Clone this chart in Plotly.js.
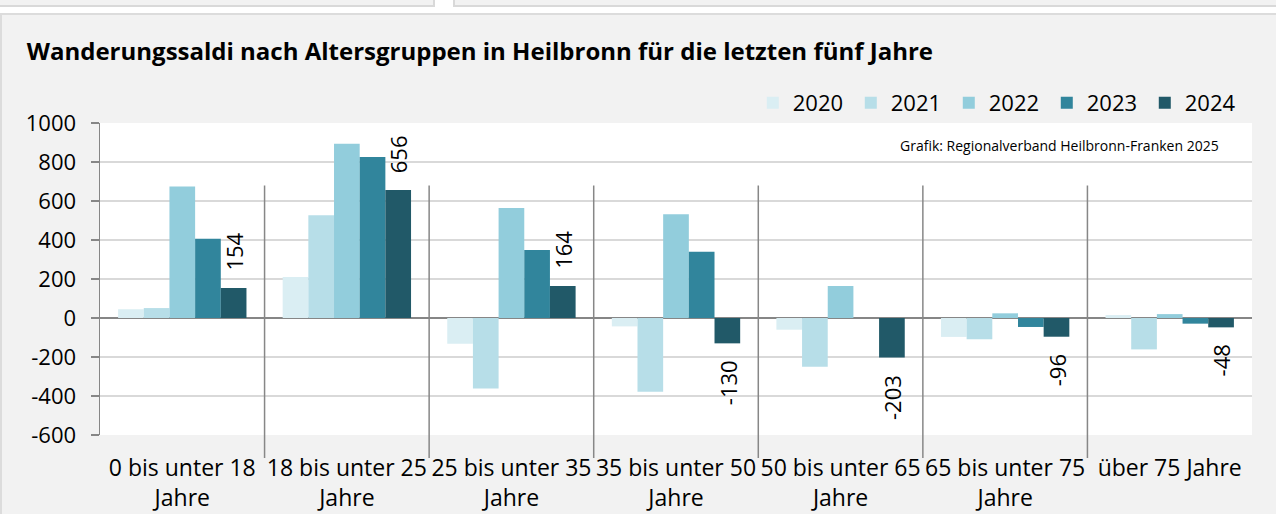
<!DOCTYPE html>
<html>
<head>
<meta charset="utf-8">
<script src="https://cdn.plot.ly/plotly-3.0.1.min.js"></script>
<style>
  html, body { margin: 0; padding: 0; background: #f2f2f2; width: 1276px; height: 514px; overflow: hidden; position: relative; }
  .deco { position: absolute; box-sizing: border-box; }
  #box1 { left: -4px; top: -4px; width: 439px; height: 11px; border-right: 2px solid #d9d9d9; border-bottom: 2px solid #d9d9d9; background: #f2f2f2; }
  #box2 { left: 453px; top: -4px; width: 840px; height: 11px; border-left: 2px solid #d9d9d9; border-bottom: 2px solid #d9d9d9; background: #f2f2f2; }
  #strip { left: 0; top: 7px; width: 1276px; height: 6px; background: #ffffff; }
  #gap { left: 435px; top: 0; width: 18px; height: 13px; background: #ffffff; }
  #panel { left: 0; top: 13px; width: 1300px; height: 520px; border-top: 2px solid #dcdcdc; border-left: 2px solid #dcdcdc; background: #f2f2f2; }
  #chart { position: absolute; left: 0; top: 0; width: 1276px; height: 514px; }
</style>
</head>
<body>
<div class="deco" id="box1"></div>
<div class="deco" id="box2"></div>
<div class="deco" id="strip"></div>
<div class="deco" id="gap"></div>
<div class="deco" id="panel"></div>
<div id="chart"></div>
<script>
const categories = [
  '0 bis unter 18<br>Jahre',
  '18 bis unter 25<br>Jahre',
  '25 bis unter 35<br>Jahre',
  '35 bis unter 50<br>Jahre',
  '50 bis unter 65<br>Jahre',
  '65 bis unter 75<br>Jahre',
  'über 75 Jahre'
];
const years = ['2020', '2021', '2022', '2023', '2024'];
const values2020 = [45, 210, -132, -43, -60, -97, 15];
const values2021 = [51, 527, -362, -378, -250, -109, -161];
const values2022 = [675, 894, 564, 532, 164, 24, 20];
const values2023 = [407, 826, 349, 340, 0, -46, -29];
const values2024 = [154, 656, 164, -130, -203, -96, -48];
const colors = ['#daeef3', '#b7dee8', '#92cddc', '#31859c', '#215968'];
const yTicks = [-600, -400, -200, 0, 200, 400, 600, 800, 1000];
const sourceText = 'Grafik: Regionalverband Heilbronn-Franken 2025';
const titleText = 'Wanderungssaldi nach Altersgruppen in Heilbronn für die letzten fünf Jahre';

const series = [values2020, values2021, values2022, values2023, values2024];
const FONT = '"Open Sans", "DejaVu Sans", sans-serif';
const bargap = 0.22;

const traces = series.map((vals, i) => ({
  type: 'bar',
  name: years[i],
  x: categories,
  y: vals,
  marker: { color: colors[i], line: { width: 0 } },
  hoverinfo: 'x+y+name'
}));

// data labels for the last series (2024), placed via axis coordinates
const barW = (1 - bargap) / series.length;
const lastOffset = (series.length - 1) / 2 * barW;
const labelAnnotations = values2024.map((v, i) => ({
  xref: 'x', yref: 'y',
  x: i + lastOffset, y: v,
  text: String(v),
  showarrow: false,
  textangle: -90,
  xanchor: 'center',
  yanchor: v >= 0 ? 'bottom' : 'top',
  yshift: v >= 0 ? 15 : -15,
  font: { family: FONT, size: 22, color: '#000000' }
}));

// group separators (between categories)
const dividers = [];
for (let k = 0; k < categories.length - 1; k++) {
  dividers.push({
    type: 'line', xref: 'x', yref: 'paper',
    x0: k + 0.5, x1: k + 0.5, y0: -0.074, y1: 0.80,
    line: { color: '#878787', width: 1.5 }, layer: 'above'
  });
}

const layout = {
  width: 1276, height: 514, autosize: false,
  paper_bgcolor: 'rgba(0,0,0,0)',
  plot_bgcolor: '#ffffff',
  margin: { l: 100, r: 24, t: 123, b: 79, pad: 0 },
  font: { family: FONT, size: 22, color: '#000000' },
  title: {
    text: '<b>' + titleText + '</b>',
    x: 0.021, xanchor: 'left', xref: 'container',
    y: 0.899, yanchor: 'middle', yref: 'container',
    font: { family: FONT, size: 24, color: '#000000' }
  },
  barmode: 'group',
  bargap: bargap,
  bargroupgap: 0,
  showlegend: true,
  legend: {
    orientation: 'h',
    x: 0.992, xanchor: 'right',
    y: 1.064, yanchor: 'middle',
    bgcolor: 'rgba(0,0,0,0)',
    font: { family: FONT, size: 22, color: '#000000' },
    traceorder: 'normal',
    entrywidth: 53, entrywidthmode: 'pixels'
  },
  xaxis: {
    type: 'category',
    showgrid: false, showline: false, zeroline: false,
    ticks: '',
    tickfont: { family: FONT, size: 23, color: '#000000' },
    ticklabelstandoff: 17,
    tickangle: 0
  },
  yaxis: {
    range: [-600, 1000],
    tickvals: yTicks,
    ticktext: yTicks.map(String),
    showgrid: true, gridcolor: '#d9d9d9', gridwidth: 1.5,
    zeroline: true, zerolinecolor: '#868686', zerolinewidth: 1.5,
    showline: true, linecolor: '#868686', linewidth: 1.5,
    ticks: 'outside', ticklen: 8, tickcolor: '#868686', tickwidth: 1.5,
    tickfont: { family: FONT, size: 22, color: '#000000' },
    ticklabelstandoff: 10
  },
  annotations: labelAnnotations.concat([{
    xref: 'paper', yref: 'paper',
    x: 0.973, y: 0.929, xanchor: 'right', yanchor: 'middle',
    text: sourceText, showarrow: false,
    font: { family: FONT, size: 14, color: '#000000' }
  }]),
  shapes: dividers
};

Plotly.newPlot('chart', traces, layout, { staticPlot: true, displayModeBar: false });
</script>
</body>
</html>
